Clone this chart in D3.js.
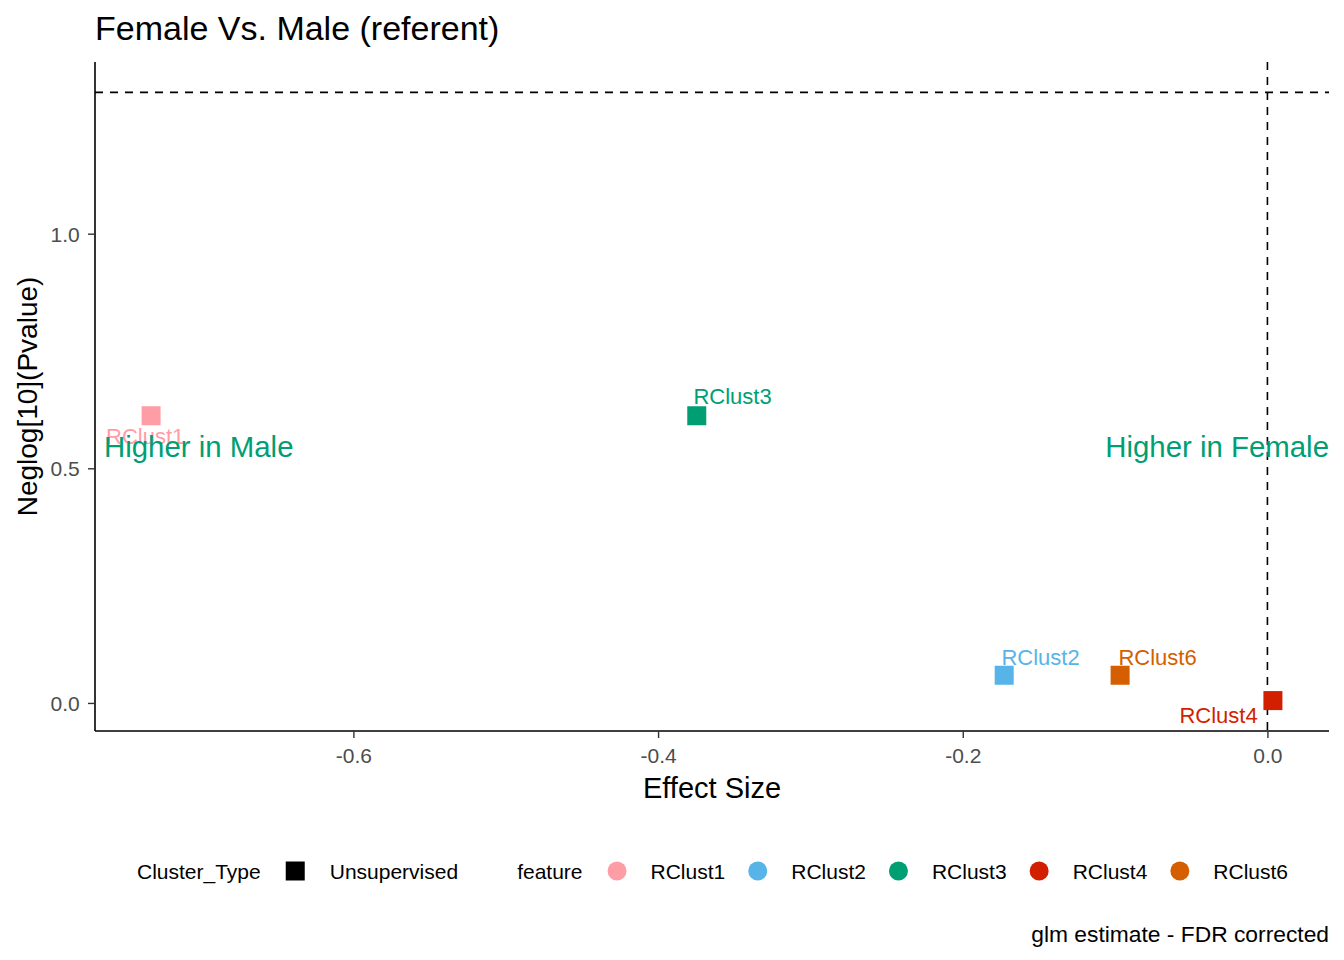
<!DOCTYPE html>
<html>
<head>
<meta charset="utf-8">
<script src="https://cdn.jsdelivr.net/npm/d3@7"></script>
<style>
  body { margin: 0; background: #fff; }
  text { font-family: "Liberation Sans", Arial, sans-serif; }
</style>
</head>
<body>
<script>
// data
var features = ["RClust1", "RClust2", "RClust3", "RClust4", "RClust6"];
var effect   = [-0.7328, -0.1728, -0.3746, 0.0036, -0.0967];
var negLogP  = [0.612, 0.059, 0.612, 0.005, 0.059];
// where the repelled labels ended up (data units, centre x / baseline y)
var labelX   = [-0.7367, -0.1489, -0.3511, -0.0321, -0.0721];
var labelY   = [0.551, 0.081, 0.637, -0.042, 0.081];
var colours  = ["#FF9DA7", "#56B4E9", "#009E73", "#D21F00", "#D55E00"];
var xTicks   = [-0.6, -0.4, -0.2, 0.0];
var yTicks   = [0.0, 0.5, 1.0];
var sigLine  = -Math.log10(0.05);
var clusterTypes = ["Unsupervised"];

var width = 1344, height = 960;
var pLeft = 95, pRight = 1329, pTop = 62, pBottom = 731;

var svg = d3.select("body")
    .append("svg")
    .attr("width", width)
    .attr("height", height);

// ggplot style 5% expansion
function expand(ext) {
    var pad = (ext[1] - ext[0]) * 0.05;
    return [ext[0] - pad, ext[1] + pad];
}

var xScale = d3.scaleLinear()
    .domain(expand(d3.extent(effect.concat([0]))))
    .range([pLeft, pRight]);

var yScale = d3.scaleLinear()
    .domain(expand(d3.extent(negLogP.concat([sigLine]))))
    .range([pBottom, pTop]);

// title
svg.append("text")
    .attr("x", 95)
    .attr("y", 40)
    .attr("font-size", 34)
    .attr("fill", "#000")
    .text("Female Vs. Male (referent)");

// reference lines
svg.append("line")
    .attr("x1", pLeft).attr("x2", pRight)
    .attr("y1", yScale(sigLine)).attr("y2", yScale(sigLine))
    .attr("stroke", "#000").attr("stroke-width", 1.6)
    .attr("stroke-dasharray", "8,7");

svg.append("line")
    .attr("x1", xScale(0)).attr("x2", xScale(0))
    .attr("y1", pTop).attr("y2", pBottom)
    .attr("stroke", "#000").attr("stroke-width", 1.6)
    .attr("stroke-dasharray", "8,7");

// points
var sq = 19;
svg.selectAll("rect.pt")
    .data(features)
    .enter()
    .append("rect")
    .attr("class", "pt")
    .attr("x", function(d, i) { return xScale(effect[i]) - sq / 2; })
    .attr("y", function(d, i) { return yScale(negLogP[i]) - sq / 2; })
    .attr("width", sq)
    .attr("height", sq)
    .attr("fill", function(d, i) { return colours[i]; });

// point labels
svg.selectAll("text.lab")
    .data(features)
    .enter()
    .append("text")
    .attr("class", "lab")
    .attr("x", function(d, i) { return xScale(labelX[i]); })
    .attr("y", function(d, i) { return yScale(labelY[i]); })
    .attr("text-anchor", "middle")
    .attr("font-size", 22)
    .attr("fill", function(d, i) { return colours[i]; })
    .text(function(d) { return d; });

// side annotations (drawn after labels, RClust1 sits underneath)
svg.append("text")
    .attr("x", pLeft + 9)
    .attr("y", 456.5)
    .attr("font-size", 29.4)
    .attr("fill", "#009E73")
    .text("Higher in Male");

svg.append("text")
    .attr("x", pRight)
    .attr("y", 456.5)
    .attr("text-anchor", "end")
    .attr("font-size", 29.4)
    .attr("fill", "#009E73")
    .text("Higher in Female");

// axes
var fmt = function(d) { return d3.format(".1f")(d).replace("\u2212", "-"); };

var xAxis = d3.axisBottom(xScale)
    .tickValues(xTicks)
    .tickFormat(fmt)
    .tickSize(7)
    .tickSizeOuter(0);

var yAxis = d3.axisLeft(yScale)
    .tickValues(yTicks)
    .tickFormat(fmt)
    .tickSize(7)
    .tickSizeOuter(0);

var gx = svg.append("g")
    .attr("transform", "translate(0," + pBottom + ")")
    .call(xAxis);

var gy = svg.append("g")
    .attr("transform", "translate(" + pLeft + ",0)")
    .call(yAxis);

[gx, gy].forEach(function(g) {
    g.select(".domain").attr("stroke", "#000").attr("stroke-width", 1.6);
    g.selectAll(".tick line").attr("stroke", "#333").attr("stroke-width", 1.4);
    g.selectAll(".tick text")
        .attr("fill", "#4D4D4D")
        .attr("font-size", 21)
        .attr("font-family", "Liberation Sans, Arial, sans-serif");
});
gx.selectAll(".tick text").attr("dy", "1.05em");
gy.selectAll(".tick text").attr("dx", "-0.25em").attr("dy", "0.36em");
gx.select(".domain").attr("d", "M" + pLeft + ",0H" + pRight);
gy.select(".domain").attr("d", "M0," + pTop + "V" + pBottom);

// axis titles
svg.append("text")
    .attr("x", (pLeft + pRight) / 2)
    .attr("y", 798)
    .attr("text-anchor", "middle")
    .attr("font-size", 29)
    .text("Effect Size");

svg.append("text")
    .attr("transform", "translate(37," + ((pTop + pBottom) / 2) + ") rotate(-90)")
    .attr("text-anchor", "middle")
    .attr("font-size", 28)
    .text("Neglog[10](Pvalue)");

// legend, laid out horizontally at the bottom
var legend = svg.append("g");
var lx = 0, ly = 871, key = 19;

function addText(str, x) {
    var t = legend.append("text")
        .attr("x", x)
        .attr("y", ly + 8)
        .attr("font-size", 21)
        .text(str);
    return t.node().getComputedTextLength();
}

lx += addText("Cluster_Type", lx) + 25;
clusterTypes.forEach(function(c) {
    legend.append("rect")
        .attr("x", lx).attr("y", ly - key / 2)
        .attr("width", key).attr("height", key)
        .attr("fill", "#000");
    lx += key + 25;
    lx += addText(c, lx);
});
lx += 59;
lx += addText("feature", lx) + 25;
features.forEach(function(f, i) {
    legend.append("circle")
        .attr("cx", lx + key / 2).attr("cy", ly)
        .attr("r", key / 2)
        .attr("fill", colours[i]);
    lx += key + 24;
    lx += addText(f, lx);
    if (i < features.length - 1) lx += 23;
});
legend.attr("transform", "translate(" + (137) + ",0)");

// caption
svg.append("text")
    .attr("x", pRight)
    .attr("y", 942)
    .attr("text-anchor", "end")
    .attr("font-size", 22.8)
    .text("glm estimate - FDR corrected");
</script>
</body>
</html>
